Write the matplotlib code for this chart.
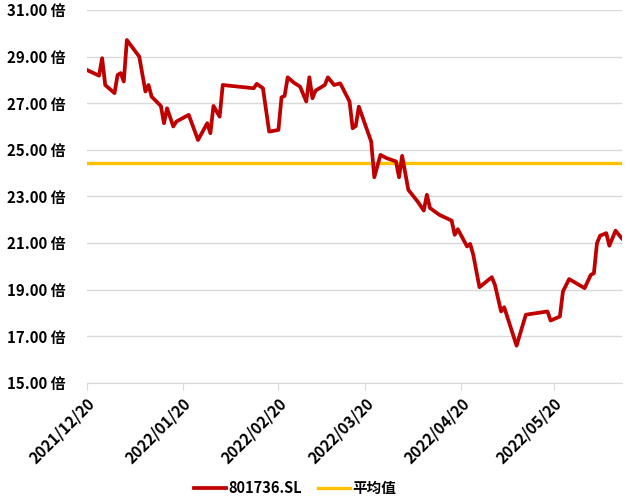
import pandas as pd
import matplotlib
matplotlib.use("Agg")
import matplotlib.pyplot as plt
import matplotlib.dates as mdates

plt.rcParams['font.family'] = ['Noto Sans CJK SC', 'DejaVu Sans']

# PE (TTM) of 801736.SL
dates = ["2021-12-20", "2021-12-24", "2021-12-25", "2021-12-26", "2021-12-29", "2021-12-30",
         "2021-12-31", "2022-01-01", "2022-01-02", "2022-01-06", "2022-01-08", "2022-01-09",
         "2022-01-10", "2022-01-13", "2022-01-14", "2022-01-15", "2022-01-17", "2022-01-18",
         "2022-01-22", "2022-01-23", "2022-01-25", "2022-01-28", "2022-01-29", "2022-01-30",
         "2022-02-01", "2022-02-02", "2022-02-12", "2022-02-13", "2022-02-15", "2022-02-17",
         "2022-02-20", "2022-02-21", "2022-02-22", "2022-02-23", "2022-02-25", "2022-02-27",
         "2022-03-01", "2022-03-02", "2022-03-03", "2022-03-04", "2022-03-07", "2022-03-08",
         "2022-03-10", "2022-03-12", "2022-03-15", "2022-03-16", "2022-03-17", "2022-03-18",
         "2022-03-22", "2022-03-23", "2022-03-25", "2022-03-27", "2022-03-30", "2022-03-31",
         "2022-04-01", "2022-04-03", "2022-04-06", "2022-04-08", "2022-04-09", "2022-04-10",
         "2022-04-13", "2022-04-17", "2022-04-18", "2022-04-19", "2022-04-22", "2022-04-23",
         "2022-04-24", "2022-04-26", "2022-04-30", "2022-05-01", "2022-05-03", "2022-05-04",
         "2022-05-08", "2022-05-11", "2022-05-18", "2022-05-19", "2022-05-22", "2022-05-23",
         "2022-05-25", "2022-05-30", "2022-06-01", "2022-06-02", "2022-06-03", "2022-06-04",
         "2022-06-06", "2022-06-07", "2022-06-09", "2022-06-11"]
pe = [28.43, 28.18, 28.93, 27.78, 27.43, 28.21,
      28.29, 27.93, 29.71, 29.00, 27.50, 27.78,
      27.28, 26.88, 26.14, 26.78, 26.00, 26.21,
      26.50, 26.14, 25.42, 26.14, 25.71, 26.88,
      26.42, 27.78, 27.64, 27.83, 27.64, 25.78,
      25.85, 27.25, 27.31, 28.11, 27.88, 27.71,
      27.07, 28.11, 27.21, 27.54, 27.78, 28.11,
      27.78, 27.85, 27.07, 25.92, 26.02, 26.85,
      25.35, 23.82, 24.78, 24.64, 24.50, 23.82,
      24.74, 23.28, 22.78, 22.39, 23.07, 22.50,
      22.21, 21.96, 21.35, 21.59, 20.85, 20.96,
      20.49, 19.10, 19.53, 19.20, 18.06, 18.24,
      16.59, 17.92, 18.06, 17.67, 17.84, 18.92,
      19.45, 19.06, 19.63, 19.70, 20.99, 21.31,
      21.42, 20.88, 21.53, 21.20]
avg_pe = 24.43

tick_dates = ["2021-12-20", "2022-01-20", "2022-02-20", "2022-03-20", "2022-04-20", "2022-05-20"]
y_ticks = [15, 17, 19, 21, 23, 25, 27, 29, 31]

x = pd.to_datetime(dates)

fig = plt.figure(figsize=(6.28, 4.99), dpi=100)
ax = fig.add_axes([0.138, 0.233, 0.852, 0.747])

ax.plot(x, pe, color="#C00000", linewidth=2.7, label="801736.SL", zorder=3)
ax.plot(x, [avg_pe] * len(x), color="#FFC000", linewidth=2.4, label="平均值", zorder=2)

ax.set_ylim(15, 31)
ax.set_yticks(y_ticks)
ax.set_yticklabels([f"{v:.2f} 倍" for v in y_ticks], fontsize=10.8, fontweight="bold")
ax.set_xlim(x[0], x[-1])
ax.set_xticks(pd.to_datetime(tick_dates))
ax.xaxis.set_major_formatter(mdates.DateFormatter("%Y/%m/%d"))
plt.setp(ax.get_xticklabels(), rotation=45, ha="right", rotation_mode="anchor",
         fontsize=11.2, fontweight="bold")

ax.grid(axis="y", color="#D9D9D9", linewidth=1)
ax.set_axisbelow(True)
for s in ["top", "right", "left"]:
    ax.spines[s].set_visible(False)
ax.spines["bottom"].set_color("#D9D9D9")
ax.tick_params(axis="y", length=0, pad=15)
ax.tick_params(axis="x", color="#D9D9D9", length=5, pad=4)

fig.legend(loc="center", bbox_to_anchor=(0.47, 0.022), ncol=2, frameon=False,
           prop={"size": 10.5, "weight": "bold"}, handlelength=2.2, handletextpad=0.15,
           columnspacing=1.1)

fig.savefig("out.png", dpi=100)
